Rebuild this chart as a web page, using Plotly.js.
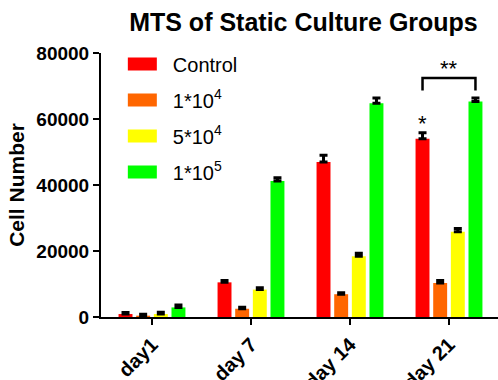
<!DOCTYPE html>
<html>
<head>
<meta charset="utf-8">
<script src="https://cdn.plot.ly/plotly-3.0.1.min.js"></script>
<style>html,body{margin:0;padding:0;background:#fff;}#chart{width:498px;height:380px;}</style>
</head>
<body>
<div id="chart"></div>
<script>
// ---- data ----
const categories = ['day1', 'day 7', 'day 14', 'day 21'];
const seriesNames = ['Control', '1*10<sup>4</sup>', '5*10<sup>4</sup>', '1*10<sup>5</sup>'];
const control = [900, 10500, 47000, 54000];
const seed1e4 = [400, 2500, 6900, 10300];
const seed5e4 = [900, 8300, 18400, 25800];
const seed1e5 = [2900, 41200, 64800, 65300];
const errControl = [500, 550, 2000, 1850];
const err1e4 = [400, 450, 450, 750];
const err5e4 = [550, 550, 950, 1050];
const err1e5 = [700, 1000, 1550, 1050];
const yTicks = [0, 20000, 40000, 60000, 80000];
const colors = ['#FF0000', '#FF6600', '#FFFF00', '#00FF00'];

const FONT = 'Arial, "Liberation Sans", Helvetica, sans-serif';
const bargap = 0.287;
const slot = (1 - bargap) / 4;

const values = [control, seed1e4, seed5e4, seed1e5];
const errs = [errControl, err1e4, err5e4, err1e5];

const traces = values.map((v, i) => ({
  type: 'bar',
  x: categories,
  y: v,
  name: seriesNames[i],
  legendgroup: 'g' + i,
  marker: {color: colors[i], line: {width: 0}},
  error_y: {type: 'data', symmetric: false, array: errs[i], arrayminus: errs[i].map(() => 0),
            color: '#000', thickness: 3, width: 4}
}));

const lastIdx = categories.length - 1;
const redX = lastIdx - 1.5 * slot;
const greenX = lastIdx + 1.5 * slot;
const bracketTop = 72400, bracketLeg = 68600;

const layout = {
  width: 498, height: 380,
  margin: {l: 101, r: 0, t: 53, b: 63},
  paper_bgcolor: '#fff', plot_bgcolor: '#fff',
  font: {family: FONT, color: '#000'},
  title: {text: 'MTS of Static Culture Groups', font: {family: FONT, size: 25, weight: 700, color: '#000'},
          xref: 'paper', x: 0.51, xanchor: 'center', yref: 'container', y: 1 - 22 / 380, yanchor: 'middle'},
  barmode: 'group', bargap: bargap, bargroupgap: 0.21,
  showlegend: true,
  legend: {x: 0.055, y: 1.032, xanchor: 'left', yanchor: 'top', font: {family: FONT, size: 20, color: '#000'},
           bgcolor: 'rgba(0,0,0,0)', tracegroupgap: 7, itemwidth: 40},
  xaxis: {type: 'category', range: [-0.515, 3.495], showline: true, linecolor: '#000', linewidth: 2,
          ticks: 'outside', ticklen: 6, tickwidth: 2, tickcolor: '#000', tickangle: -45,
          tickfont: {family: FONT, size: 20, weight: 700, color: '#000'}, showgrid: false, zeroline: false, fixedrange: true},
  yaxis: {range: [0, 80000], tickvals: yTicks, ticktext: yTicks.map(String), showline: true, linecolor: '#000', linewidth: 2,
          ticks: 'outside', ticklen: 6, tickwidth: 2, tickcolor: '#000', showgrid: false, zeroline: false,
          tickfont: {family: FONT, size: 19, weight: 700, color: '#000'},
          title: {text: 'Cell Number', font: {family: FONT, size: 21, weight: 700, color: '#000'}, standoff: 6}},
  shapes: [
    {type: 'path', xref: 'x', yref: 'y',
     path: `M${redX},${bracketLeg} L${redX},${bracketTop} L${greenX},${bracketTop} L${greenX},${bracketLeg}`,
     line: {color: '#000', width: 2.5}}
  ],
  annotations: [
    {xref: 'x', yref: 'y', x: (redX + greenX) / 2, y: bracketTop, text: '**', showarrow: false,
     yanchor: 'bottom', yshift: -5, font: {family: FONT, size: 22, color: '#000'}},
    {xref: 'x', yref: 'y', x: redX, y: control[lastIdx] + errControl[lastIdx], text: '*', showarrow: false,
     yanchor: 'bottom', yshift: -5, font: {family: FONT, size: 22, color: '#000'}}
  ]
};

Plotly.newPlot('chart', traces, layout, {staticPlot: true, displayModeBar: false}).then(gd => {
  gd.querySelectorAll('.legend .legendpoints path').forEach(p => {
    p.setAttribute('d', 'M9,6.5H-20V-6.5H9Z');
  });
});
</script>
</body>
</html>
